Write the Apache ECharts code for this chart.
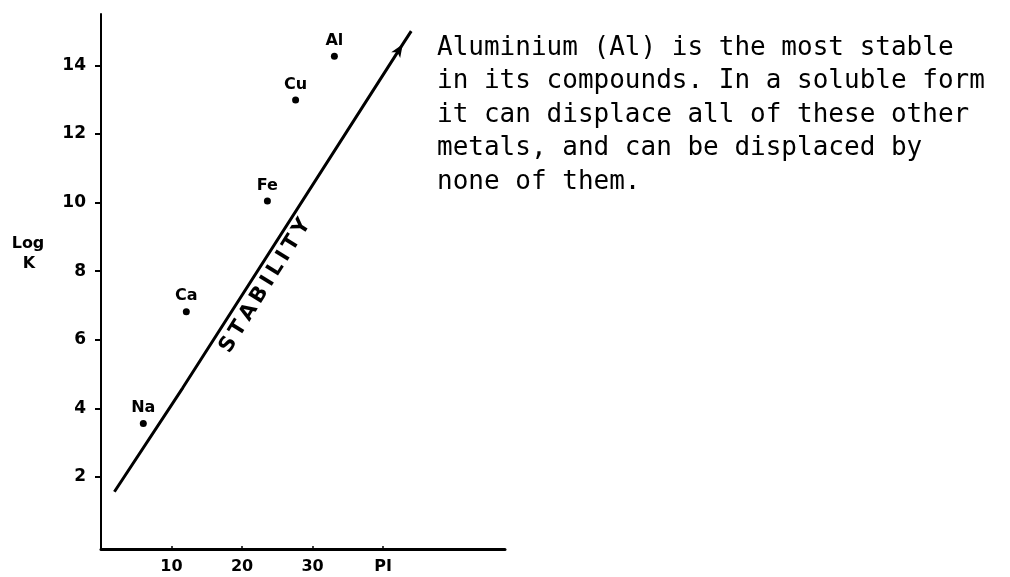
<!DOCTYPE html>
<html>
<head>
<meta charset="utf-8">
<script src="https://cdn.jsdelivr.net/npm/echarts@6/dist/echarts.min.js"></script>
<style>
  html, body { margin: 0; padding: 0; background: #fff; }
  #chart { width: 1010px; height: 577px; }
</style>
</head>
<body>
<div id="chart"></div>
<script>
// Metals: ionic potential (PI) against stability constant (log K)
const elements = ['Na', 'Ca', 'Fe', 'Cu', 'Al'];
const piValues = [6.0, 12.1, 23.6, 27.6, 33.1];
const logK = [3.56, 6.82, 10.05, 12.99, 14.27];

// Stability trend line (arrowhead sits on the third point)
const trendX = [1.9, 11.6, 42.8, 44.0];
const trendY = [1.57, 4.6, 14.62, 15.0];

// Axis ticks and labels
const xTicks = [10, 20, 30, 40];
const xTickLabels = ['10', '20', '30', 'PI'];
const yTicks = [2, 4, 6, 8, 10, 12, 14];

// Annotation text
const trendLabel = 'STABILITY';
const trendLabelAt = [23.3, 7.57];
const yAxisTitle = ['Log', 'K'];
const noteLines = [
  'Aluminium (Al) is the most stable',
  'in its compounds. In a soluble form',
  'it can displace all of these other',
  'metals, and can be displaced by',
  'none of them.'
];

const lettering = '"DejaVu Sans", sans-serif';
const chart = echarts.init(document.getElementById('chart'), null, { renderer: 'canvas' });

chart.setOption({
  backgroundColor: '#fff',
  animation: false,
  grid: { left: 101, right: 505, top: 14, bottom: 28, containLabel: false },
  xAxis: {
    type: 'value',
    min: 0,
    max: 57.3,
    splitLine: { show: false },
    axisLine: { show: true, onZero: false, lineStyle: { color: '#000', width: 3 } },
    axisTick: {
      show: true, inside: true, length: 3,
      customValues: xTicks,
      lineStyle: { color: '#000', width: 1.5 }
    },
    axisLabel: {
      customValues: xTicks,
      margin: 10,
      color: '#000',
      fontFamily: lettering,
      fontWeight: 'bold',
      fontSize: 16,
      formatter: v => xTickLabels[xTicks.indexOf(v)] || ''
    }
  },
  yAxis: {
    type: 'value',
    min: -0.1,
    max: 15.5,
    splitLine: { show: false },
    axisLine: { show: true, onZero: false, lineStyle: { color: '#000', width: 2 } },
    axisTick: {
      show: true, inside: false, length: 6,
      customValues: yTicks,
      lineStyle: { color: '#000', width: 2 }
    },
    axisLabel: {
      customValues: yTicks,
      margin: 15,
      color: '#000',
      fontFamily: lettering,
      fontWeight: 'bold',
      fontSize: 17
    }
  },
  series: [
    {
      type: 'line',
      data: trendX.map((x, i) => [x, trendY[i]]),
      lineStyle: { color: '#000', width: 3 },
      symbol: (val, params) => (params.dataIndex === 2 ? 'arrow' : 'none'),
      symbolSize: [8, 13],
      symbolRotate: -33,
      itemStyle: { color: '#000' },
      showSymbol: true,
      silent: true,
      z: 2
    },
    {
      type: 'scatter',
      data: piValues.map((x, i) => ({ value: [x, logK[i]], name: elements[i] })),
      symbol: 'circle',
      symbolSize: 7,
      itemStyle: { color: '#000', opacity: 1 },
      label: {
        show: true,
        position: 'top',
        distance: 4,
        formatter: p => p.name,
        color: '#000',
        fontFamily: lettering,
        fontWeight: 'bold',
        fontSize: 16
      },
      z: 3
    },
    {
      type: 'scatter',
      data: [trendLabelAt],
      symbolSize: 0,
      silent: true,
      itemStyle: { color: '#000', opacity: 1 },
      label: {
        show: true,
        position: 'inside',
        rotate: 58,
        formatter: trendLabel.split('').join('\u2009'),
        color: '#000',
        textBorderWidth: 0,
        fontFamily: lettering,
        fontWeight: 'bold',
        fontSize: 21
      },
      z: 3
    }
  ],
  graphic: [
    {
      type: 'text',
      x: 28,
      y: 236,
      style: {
        text: yAxisTitle[0],
        fill: '#000',
        font: 'bold 16px ' + lettering,
        align: 'center',
        verticalAlign: 'top'
      }
    },
    {
      type: 'text',
      x: 29,
      y: 256,
      style: {
        text: yAxisTitle[1],
        fill: '#000',
        font: 'bold 16px ' + lettering,
        align: 'center',
        verticalAlign: 'top'
      }
    },
    {
      type: 'text',
      left: 437,
      top: 31,
      style: {
        text: noteLines.join('\n'),
        fill: '#000',
        font: '26px "DejaVu Sans Mono", monospace',
        lineHeight: 33.5
      }
    }
  ]
});
</script>
</body>
</html>
